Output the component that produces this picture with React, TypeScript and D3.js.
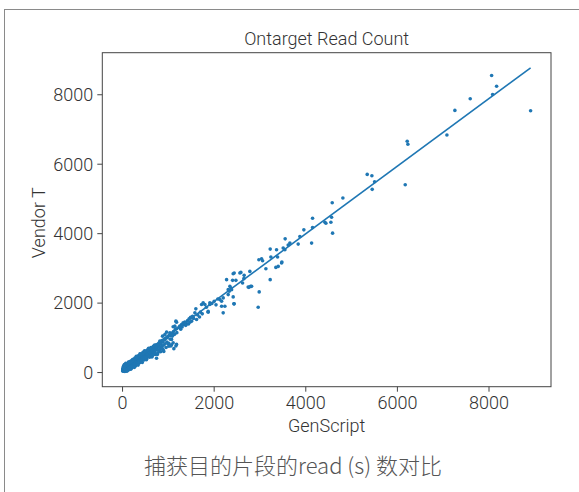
import React from 'react';
import * as d3 from 'd3';

const W = 579;
const H = 492;

const titleText = 'Ontarget Read Count';
const xLabel = 'GenScript';
const yLabel = 'Vendor T';
const caption = '捕获目的片段的read (s) 数对比';
const xTicks = [0, 2000, 4000, 6000, 8000];
const yTicks = [0, 2000, 4000, 6000, 8000];

// [GenScript, Vendor T]
const clusterA: [number, number][] = [
  [3,48],[6,72],[8,95],[10,58],[12,120],[14,84],[15,40],[17,105],[19,66],[21,138],[23,90],[25,52],[27,115],[29,78],[31,150],[33,100],[35,62],[37,128],[40,88],[42,165],[44,110],[46,70],[49,140],[51,96],[53,178],[56,122],[58,80],[61,150],[63,108],[66,190],[68,132],[71,92],[73,160],[76,118],[79,205],[81,142],[84,100],[87,172],[90,128],[93,215],[96,155],[99,110],[102,185],[105,138],[108,228],[112,165],[115,120],[118,198],[122,150],[126,240],[130,178],[134,132],[138,210],[142,160],[146,252],
];
const clusterB: [number, number][] = [
  [150,190],[153,238],[157,150],[160,205],[164,262],[168,172],[171,220],[175,275],[179,185],[183,232],[187,290],[191,198],[195,248],[199,305],[203,212],[207,262],[211,318],[216,225],[220,280],[224,335],[229,240],[233,292],[238,350],[242,255],[247,305],[252,365],[256,270],[261,322],[266,380],[271,285],[276,336],[281,395],[286,298],[291,350],[297,410],[302,312],[307,366],[313,425],[318,330],[324,382],[330,440],[335,345],[341,398],[347,455],[353,362],[359,415],[366,470],[372,375],[378,430],[385,488],[391,392],[398,446],[404,502],[411,408],
];
const clusterC: [number, number][] = [
  [418,462],[425,520],[432,425],[440,480],[447,540],[455,440],[462,498],[470,555],[478,458],[486,515],[494,575],[502,472],[510,532],[519,592],[527,490],[536,550],[545,612],[554,505],[563,568],[572,630],[582,522],[591,585],[601,650],[611,540],[621,602],[632,668],[642,558],[653,620],[664,690],[675,575],[686,640],[698,710],[710,595],[722,660],
];
const clusterSpread: [number, number][] = [
  [20,180],[35,200],[50,30],[60,230],[75,45],[90,250],[110,60],[125,290],[140,80],[160,320],[175,110],[190,340],[210,140],[230,380],[250,170],[270,420],[290,200],[310,450],[330,240],[350,490],[370,280],[395,530],[420,320],[445,580],[470,360],[500,620],[530,400],[560,680],[590,440],[620,720],[650,480],[680,760],[710,520],[740,800],[770,560],[800,860],[830,600],[860,920],[890,650],[920,960],[950,720],[980,1010],[1010,760],[1040,1060],[1070,800],[1100,1100],
  [15,130],[30,160],[45,190],[65,80],[85,220],[100,95],[120,260],[135,115],[155,290],[170,140],[185,310],[205,170],[225,350],[245,200],[265,390],[285,225],[305,420],[325,260],[345,460],[365,300],[390,500],[415,350],[440,540],[465,390],[490,590],[515,430],[545,640],[575,470],[605,690],[635,510],[665,740],[695,550],
  [40,230],[70,265],[95,40],[130,300],[180,95],[215,370],[260,150],[300,470],[340,215],[380,540],[430,290],[480,630],[520,370],[570,700],[640,450],[700,790],[760,520],[840,880],[900,610],
];
const clusterD: [number, number][] = [
  [735,735],[742,410],[750,690],[765,760],[778,640],[792,795],[806,720],[814,906],[822,655],[838,830],[852,760],[866,700],[873,1049],[882,880],[896,790],[911,940],[924,1098],[930,830],[947,990],[961,1164],[968,880],[985,1030],[996,832],[1011,840],[1020,1080],[1033,1147],[1042,960],[1055,763],[1065,1130],[1070,955],[1088,1050],[1105,860],[1112,1180],[1120,688],[1135,1100],[1150,1240],[1164,763],[1179,811],[1185,1150],
];
const clusterE: [number, number][] = [
  [1179,1451],[1288,1385],[1397,1414],[1507,1480],[1616,1528],[1179,1262],[1164,1480],[1142,1336],[1105,1319],[1323,1434],[1360,1451],[1454,1548],[1485,1594],[1528,1623],[1579,1720],[1600,1835],[1725,1958],[1760,2007],[1797,1958],[1869,1738],[1869,1766],[1906,2007],[1906,1958],[2124,2102],[2162,2053],[2162,1910],[2197,1720],[2197,2150],[2234,1910],
  [1230,1300],[1250,1340],[1270,1250],[1300,1310],[1340,1380],[1380,1360],[1420,1500],[1440,1400],[1470,1450],[1550,1560],[1640,1660],[1680,1600],[1700,1740],[1740,1690],[1830,1880],[1950,1990],[2000,2050],[2040,1950],[2080,2120],
];
const clusterF: [number, number][] = [
  [3834,3699],[3653,3728],[3616,3670],[3550,3851],[3507,3584],[3544,3535],[3478,3183],[3362,3535],[3384,3326],[3223,3555],[3238,3326],[3398,3057],[3347,3028],[3223,2675],[3129,2991],[3035,3277],[2976,3249],[3057,3220],[2983,2323],[2961,1881],[2779,2913],[2742,2466],[2795,2483],[2648,2704],[2620,2581],[2583,2885],[2437,2867],[2474,2655],[2415,2179],[2437,1978],[2343,2483],[2365,2437],[2306,2388],[2328,2340],[2271,2675],[2380,2388],[2306,2245],
  [3472,3154],[2415,2847],[2561,2867],[2655,2799],[2402,2655],[2758,2454],[2817,2483],[2430,1978],
];
const clusterG: [number, number][] = [
  [8057,8556],[8166,8247],[8079,8009],[8908,7541],[7590,7885],[7255,7550],[7081,6842],[6214,6661],[6229,6575],[6171,5408],[5341,5706],[5443,5666],[5502,5494],[5450,5276],[4810,5027],[4577,4892],[4148,4444],[3958,4109],[4417,4330],[4439,4301],[4548,4330],[4563,4473],[4585,4014],[4148,4175],[4127,3728],[3871,3917],
];

// fitted line endpoints
const fitX = [3, 8908];
const fitY = [107, 8774];

const allPoints = [...clusterA, ...clusterB, ...clusterC, ...clusterSpread, ...clusterD, ...clusterE, ...clusterF, ...clusterG];

const FONT = "Roboto, 'Liberation Sans', Arial, sans-serif";
const TEXT = '#333';
const FS = 18;

export default function App() {
  const left = 102.3, right = 551, top = 52.7, bottom = 386.7;

  const xs = [...allPoints.map(p => p[0]), ...fitX];
  const ys = [...allPoints.map(p => p[1]), ...fitY];
  const [x0, x1] = d3.extent(xs) as [number, number];
  const [y0, y1] = d3.extent(ys) as [number, number];
  const px = (x1 - x0) * 0.05, py = (y1 - y0) * 0.05;

  const x = d3.scaleLinear().domain([x0 - px, x1 + px]).range([left, right]);
  const y = d3.scaleLinear().domain([y0 - py, y1 + py]).range([bottom, top]);

  const line = d3.line<number>().x((_, i) => x(fitX[i])).y((_, i) => y(fitY[i]));

  return (
    <svg width={W} height={H} style={{ position: 'absolute', left: 0, top: 0, background: '#fff' }}>
      <rect x={0} y={0} width={W} height={H} fill="#fff" />
      <line x1={4.5} y1={9.5} x2={4.5} y2={H} stroke="#8a8a8a" strokeWidth={1} />
      <line x1={4} y1={9.5} x2={W} y2={9.5} stroke="#8a8a8a" strokeWidth={1} />

      <text x={(left + right) / 2} y={44.5} textAnchor="middle" fontFamily={FONT} fontWeight={300} fontSize={FS} fill={TEXT}>{titleText}</text>

      <g>
        {allPoints.map((p, i) => (
          <circle key={i} cx={x(p[0])} cy={y(p[1])} r={1.8} fill="#1f77b4" />
        ))}
        <path d={line(fitX) || ''} fill="none" stroke="#1f77b4" strokeWidth={1.6} />
      </g>

      <rect x={left} y={top} width={right - left} height={bottom - top} fill="none" stroke="#444" strokeWidth={1} />

      {xTicks.map(t => (
        <g key={'x' + t}>
          <line x1={x(t)} x2={x(t)} y1={bottom} y2={bottom + 5} stroke="#444" strokeWidth={1} />
          <text x={x(t)} y={bottom + 22} textAnchor="middle" fontFamily={FONT} fontWeight={300} fontSize={FS} fill={TEXT}>{t}</text>
        </g>
      ))}
      {yTicks.map(t => (
        <g key={'y' + t}>
          <line x1={left - 5} x2={left} y1={y(t)} y2={y(t)} stroke="#444" strokeWidth={1} />
          <text x={left - 9} y={y(t)} dy="0.35em" textAnchor="end" fontFamily={FONT} fontWeight={300} fontSize={FS} fill={TEXT}>{t}</text>
        </g>
      ))}

      <text x={(left + right) / 2} y={432} textAnchor="middle" fontFamily={FONT} fontWeight={300} fontSize={FS} fill={TEXT}>{xLabel}</text>
      <text transform={`translate(45, ${(top + bottom) / 2 + 3}) rotate(-90)`} textAnchor="middle" fontFamily={FONT} fontWeight={300} fontSize={FS} fill={TEXT}>{yLabel}</text>

      <text x={293} y={474} textAnchor="middle" fontFamily="'Noto Sans CJK SC', 'Noto Sans', sans-serif" fontWeight={300} fontSize={22} fill="#555">{caption}</text>
    </svg>
  );
}
